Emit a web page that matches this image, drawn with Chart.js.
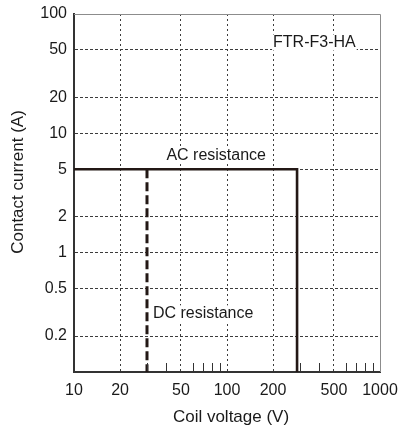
<!DOCTYPE html>
<html>
<head>
<meta charset="utf-8">
<script src="https://cdn.jsdelivr.net/npm/chart.js@4.4.1/dist/chart.umd.min.js"></script>
<style>
  html, body { margin: 0; padding: 0; background: #fff; }
  canvas { display: block; }
</style>
</head>
<body>
<canvas id="chart" width="403" height="432"></canvas>
<script>
// Eixos (escala log)
const xTicks = [10, 20, 50, 100, 200, 500, 1000];
const xMinorTicks = [30, 40, 60, 70, 80, 90, 300, 400, 600, 700, 800, 900];
const yTicks = [0.1, 0.2, 0.5, 1, 2, 5, 10, 20, 50, 100];

// Curvas
const acVoltage = [10, 287, 287];
const acCurrent = [5, 5, 0.1];
const dcVoltage = [30, 30];
const dcCurrent = [5, 0.1];

const ink = "#231815";
const fontFamily = '"Liberation Sans", Arial, sans-serif';

function toPoints(xs, ys) {
    return xs.map((v, i) => ({ x: v, y: ys[i] }));
}

// textos dentro do gráfico
const notes = [
    { text: "FTR-F3-HA", x: 200, y: 57.7, align: "left" },
    { text: "AC resistance", x: 85, y: 6.45, align: "center" },
    { text: "DC resistance", x: 32.8, y: 0.31, align: "left" },
];

const extras = {
    id: "extras",
    beforeDatasetsDraw(chart) {
        const { ctx, scales: { x, y } } = chart;
        ctx.save();
        ctx.font = "16px " + fontFamily;
        ctx.textBaseline = "middle";
        notes.forEach((n) => {
            const px = x.getPixelForValue(n.x);
            const py = y.getPixelForValue(n.y);
            const w = ctx.measureText(n.text).width;
            const left = n.align === "center" ? px - w / 2 : px;
            ctx.fillStyle = "#fff";
            ctx.fillRect(left - 1, py - 8, w + 2, 16);
            ctx.fillStyle = "#1a1a1a";
            ctx.textAlign = n.align;
            ctx.fillText(n.text, px, py);
        });
        ctx.restore();
    },
    afterDatasetsDraw(chart) {
        const { ctx, chartArea: a, scales: { x } } = chart;
        ctx.save();
        // moldura de cima e da direita
        ctx.strokeStyle = "#8c8c8c";
        ctx.lineWidth = 1;
        ctx.beginPath();
        ctx.moveTo(a.left, a.top + 0.5);
        ctx.lineTo(a.right + 0.5, a.top + 0.5);
        ctx.lineTo(a.right + 0.5, a.bottom);
        ctx.stroke();

        // marcas menores no eixo X
        ctx.strokeStyle = "#333";
        ctx.beginPath();
        xMinorTicks.forEach((v) => {
            const px = Math.round(x.getPixelForValue(v)) + 0.5;
            ctx.moveTo(px, a.bottom - 1);
            ctx.lineTo(px, a.bottom - 9);
        });
        ctx.stroke();

        // títulos dos eixos
        ctx.fillStyle = "#1a1a1a";
        ctx.font = "17px " + fontFamily;
        ctx.textAlign = "center";
        ctx.textBaseline = "middle";
        ctx.fillText("Coil voltage (V)", 231, 417);
        ctx.translate(18, 182);
        ctx.rotate(-Math.PI / 2);
        ctx.fillText("Contact current (A)", 0, 0);
        ctx.restore();
    },
};

const hideEdge = (edges) => (c) =>
    c.tick && edges.includes(c.tick.value) ? "rgba(0,0,0,0)" : "#3c3c3c";

new Chart(document.querySelector("#chart"), {
    type: "scatter",
    data: {
        datasets: [
            {
                data: toPoints(acVoltage, acCurrent),
                showLine: true,
                borderColor: ink,
                borderWidth: 2.6,
                pointRadius: 0,
            },
            {
                data: toPoints(dcVoltage, dcCurrent),
                showLine: true,
                borderColor: ink,
                borderWidth: 3,
                borderDash: [9, 4],
                pointRadius: 0,
            },
        ],
    },
    options: {
        responsive: false,
        animation: false,
        devicePixelRatio: 1,
        layout: { padding: { top: 14, right: 23, left: 0, bottom: 0 } },
        plugins: { legend: { display: false }, tooltip: { enabled: false } },
        scales: {
            x: {
                type: "logarithmic",
                min: 10,
                max: 1000,
                afterBuildTicks: (s) => { s.ticks = xTicks.map((v) => ({ value: v })); },
                afterFit: (s) => {
                    s.height = 60;
                    s.paddingLeft = 0;
                    s.paddingRight = 0;
                },
                ticks: {
                    autoSkip: false,
                    maxRotation: 0,
                    padding: 9,
                    color: "#1a1a1a",
                    font: { family: fontFamily, size: 16 },
                    callback: (v) => String(v),
                },
                grid: { drawTicks: false, color: hideEdge([10, 1000]), lineWidth: 1 },
                border: { color: "#333", width: 2, dash: [2, 3] },
            },
            y: {
                type: "logarithmic",
                min: 0.1,
                max: 100,
                afterBuildTicks: (s) => { s.ticks = yTicks.map((v) => ({ value: v })); },
                afterFit: (s) => {
                    s.width = 74;
                    s.paddingTop = 0;
                    s.paddingBottom = 0;
                },
                ticks: {
                    autoSkip: false,
                    padding: 7,
                    color: "#1a1a1a",
                    font: { family: fontFamily, size: 16 },
                    callback: (v) => (v === 0.1 ? "" : String(v)),
                },
                grid: { drawTicks: false, color: hideEdge([0.1, 100]), lineWidth: 1 },
                border: { color: "#333", width: 2, dash: [3, 2] },
            },
        },
    },
    plugins: [extras],
});
</script>
</body>
</html>
